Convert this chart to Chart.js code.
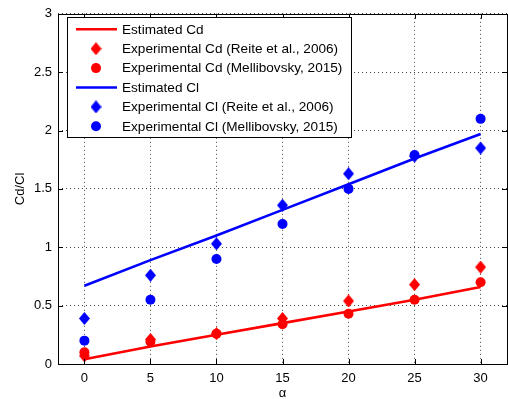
<!DOCTYPE html>
<html>
<head>
<meta charset="utf-8">
<script src="https://cdn.jsdelivr.net/npm/chart.js@4/dist/chart.umd.min.js"></script>
<style>
  html, body { margin: 0; padding: 0; overflow: hidden; background: #fff; }
  #wrap { width: 512px; height: 399px; position: relative; }
</style>
</head>
<body>
<div id="wrap"><canvas id="c"></canvas></div>
<script>
// Angle of attack (degrees)
const alpha = [0, 5, 10, 15, 20, 25, 30];

// Drag coefficient
const cdEstimated = [0.04, 0.15, 0.25, 0.35, 0.45, 0.55, 0.66];
const cdReite     = [0.07, 0.21, 0.26, 0.39, 0.54, 0.68, 0.83];
const cdMelli     = [0.10, 0.19, 0.26, 0.34, 0.43, 0.55, 0.70];

// Lift coefficient
const clEstimated = [0.67, 0.89, 1.10, 1.32, 1.54, 1.76, 1.97];
const clReite     = [0.39, 0.76, 1.03, 1.36, 1.63, 1.78, 1.85];
const clMelli     = [0.20, 0.55, 0.90, 1.20, 1.50, 1.79, 2.10];

// Axis ticks
const xTicks = [0, 5, 10, 15, 20, 25, 30];
const yTicks = [0, 0.5, 1, 1.5, 2, 2.5, 3];

const seriesLabels = [
  'Estimated Cd',
  'Experimental Cd (Reite et al., 2006)',
  'Experimental Cd (Mellibovsky, 2015)',
  'Estimated Cl',
  'Experimental Cl (Reite et al., 2006)',
  'Experimental Cl (Mellibovsky, 2015)'
];

const RED = '#ff0000';
const BLUE = '#0000ff';
const FONT = '"Liberation Sans", Arial, Helvetica, sans-serif';
const CIRCLE_R = 5;

function diamond(color) {
  const w = 11, h = 13;
  const c = document.createElement('canvas');
  c.width = w; c.height = h;
  const g = c.getContext('2d');
  g.fillStyle = color;
  g.beginPath();
  g.moveTo(w / 2, 0);
  g.lineTo(w, h / 2);
  g.lineTo(w / 2, h);
  g.lineTo(0, h / 2);
  g.closePath();
  g.fill();
  return c;
}
const redDiamond = diamond(RED);
const blueDiamond = diamond(BLUE);

const pts = ys => alpha.map((a, i) => ({ x: a, y: ys[i] }));

function lineSet(label, ys, color, order) {
  return { label, data: pts(ys), borderColor: color, backgroundColor: color,
           borderWidth: 2.6, pointRadius: 0, showLine: true, order, _kind: 'line' };
}
function markerSet(label, ys, color, style, order) {
  return { label, data: pts(ys), borderColor: color, backgroundColor: color,
           showLine: false, pointStyle: style, pointRadius: CIRCLE_R, borderWidth: 0,
           order, _kind: 'marker' };
}

const datasets = [
  lineSet(seriesLabels[0], cdEstimated, RED, 6),
  markerSet(seriesLabels[1], cdReite, RED, redDiamond, 5),
  markerSet(seriesLabels[2], cdMelli, RED, 'circle', 4),
  lineSet(seriesLabels[3], clEstimated, BLUE, 3),
  markerSet(seriesLabels[4], clReite, BLUE, blueDiamond, 2),
  markerSet(seriesLabels[5], clMelli, BLUE, 'circle', 1)
];

// Frame, inward tick marks and the boxed legend
const framePlugin = {
  id: 'frame',
  afterDraw(chart) {
    const { ctx, chartArea: a, scales } = chart;
    ctx.save();
    ctx.strokeStyle = '#000';
    ctx.lineWidth = 1;
    ctx.strokeRect(Math.round(a.left) + 0.5, Math.round(a.top) + 0.5,
                   Math.round(a.right - a.left), Math.round(a.bottom - a.top));
    ctx.beginPath();
    const tl = 5;
    xTicks.forEach(v => {
      const x = Math.round(scales.x.getPixelForValue(v)) + 0.5;
      ctx.moveTo(x, a.bottom); ctx.lineTo(x, a.bottom - tl);
      ctx.moveTo(x, a.top); ctx.lineTo(x, a.top + tl);
    });
    yTicks.forEach(v => {
      const y = Math.round(scales.y.getPixelForValue(v)) + 0.5;
      ctx.moveTo(a.left, y); ctx.lineTo(a.left + tl, y);
      ctx.moveTo(a.right, y); ctx.lineTo(a.right - tl, y);
    });
    ctx.stroke();

    // legend
    const bx = 67, by = 17, bw = 284, bh = 120;
    ctx.fillStyle = '#fff';
    ctx.fillRect(bx, by, bw, bh);
    ctx.strokeRect(bx + 0.5, by + 0.5, bw, bh);
    const rowH = 19.4, y0 = 29.3;
    ctx.font = '13.6px ' + FONT;
    ctx.textBaseline = 'middle';
    ctx.textAlign = 'left';
    chart.data.datasets.forEach((ds, i) => {
      const y = y0 + i * rowH;
      if (ds._kind === 'line') {
        ctx.strokeStyle = ds.borderColor;
        ctx.lineWidth = 2.6;
        ctx.beginPath();
        ctx.moveTo(76, y); ctx.lineTo(117, y);
        ctx.stroke();
      } else if (ds.pointStyle === 'circle') {
        ctx.fillStyle = ds.backgroundColor;
        ctx.beginPath();
        ctx.arc(96, y, CIRCLE_R, 0, Math.PI * 2);
        ctx.fill();
      } else {
        const img = ds.pointStyle;
        ctx.drawImage(img, 96 - img.width / 2, y - img.height / 2);
      }
      ctx.fillStyle = '#000';
      ctx.fillText(ds.label, 122, y + 0.5);
    });
    ctx.restore();
  }
};

const plainLabel = v => String(Math.round(v * 100) / 100);
const gridOpts = { color: '#444', lineWidth: 1, drawTicks: false };
const borderOpts = { display: false, dash: [1, 3] };

new Chart(document.getElementById('c'), {
  type: 'scatter',
  data: { datasets },
  plugins: [framePlugin],
  options: {
    responsive: true,
    maintainAspectRatio: false,
    animation: false,
    layout: { padding: { left: 0, top: 7, right: 2, bottom: 0 } },
    plugins: { legend: { display: false }, tooltip: { enabled: false } },
    elements: { line: { tension: 0 } },
    scales: {
      x: {
        type: 'linear', min: -2, max: 32,
        afterBuildTicks: s => { s.ticks = xTicks.map(v => ({ value: v })); },
        afterFit: s => { s.height = 35; },
        border: borderOpts,
        grid: gridOpts,
        ticks: { color: '#000', padding: 7, font: { family: FONT, size: 13 }, callback: plainLabel },
        title: { display: true, text: 'α', color: '#000',
                 font: { family: FONT, size: 13, lineHeight: 0.88 }, padding: { top: 0, bottom: 0 } }
      },
      y: {
        type: 'linear', min: 0, max: 3,
        afterBuildTicks: s => { s.ticks = yTicks.map(v => ({ value: v })); },
        afterFit: s => { s.width = 58; },
        border: borderOpts,
        grid: gridOpts,
        ticks: { color: '#000', padding: 6, font: { family: FONT, size: 13 }, callback: plainLabel },
        title: { display: true, text: 'Cd/Cl', color: '#000',
                 font: { family: FONT, size: 13 }, padding: { top: 13, bottom: 0 } }
      }
    }
  }
});
</script>
</body>
</html>
